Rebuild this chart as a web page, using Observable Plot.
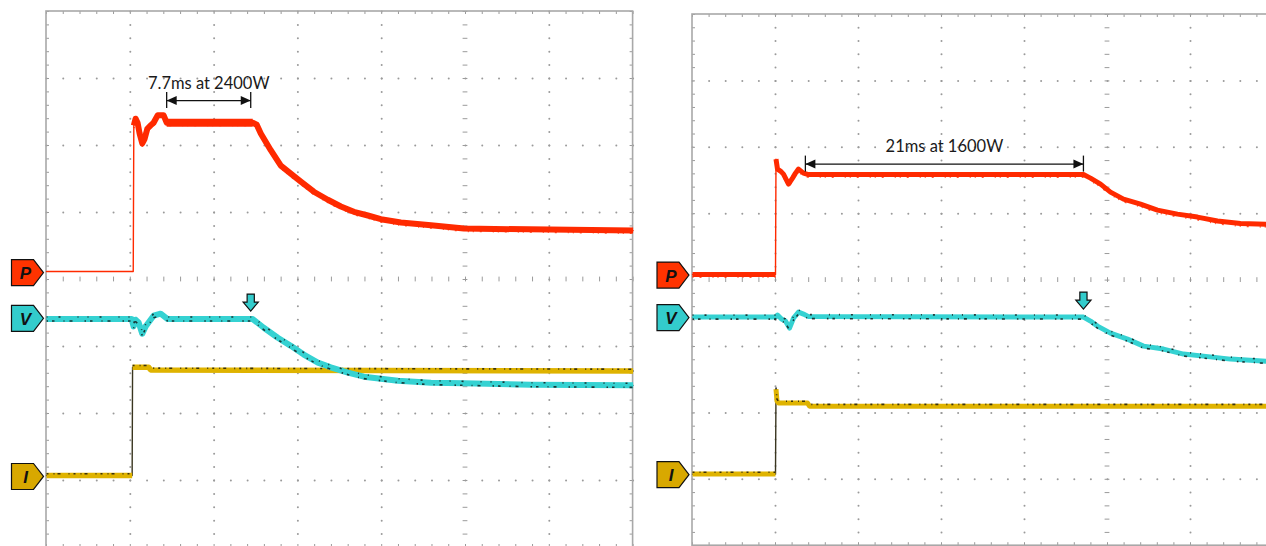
<!DOCTYPE html>
<html>
<head>
<meta charset="utf-8">
<script src="https://cdn.jsdelivr.net/npm/d3@7"></script>
<script src="https://cdn.jsdelivr.net/npm/@observablehq/plot@0.6"></script>
<style>
  html, body { margin: 0; padding: 0; background: #fff; overflow: hidden; }
  #scope { position: relative; width: 1266px; height: 546px; }
  #scope svg { position: absolute; top: 0; overflow: hidden; background: transparent; }
</style>
</head>
<body>
<div id="scope"></div>
<script>
// Scope captures, in screen divisions: x counts divisions from the left edge of
// the graticule, y counts divisions from the horizontal centre line (up is +).

// 2400 W load step
const leftPower = [[0,0.12],[1.035,0.12],[1.042,2.30],[1.063,2.40],[1.087,2.34],[1.111,2.18],[1.143,2.03],[1.171,2.10],[1.203,2.25],[1.243,2.30],[1.278,2.34],[1.326,2.45],[1.398,2.45],[1.434,2.34],[2.461,2.34],[2.509,2.31],[2.557,2.18],[2.676,1.93],[2.796,1.70],[2.915,1.58],[3.035,1.46],[3.19,1.31],[3.357,1.19],[3.513,1.09],[3.668,1.01],[3.835,0.955],[3.99,0.90],[4.229,0.85],[4.588,0.81],[4.982,0.76],[7.0,0.73]];
const leftVoltage = [[0,-0.59],[1.016,-0.59],[1.039,-0.70],[1.063,-0.60],[1.099,-0.64],[1.143,-0.81],[1.183,-0.70],[1.207,-0.66],[1.278,-0.54],[1.362,-0.51],[1.446,-0.59],[2.461,-0.59],[2.593,-0.72],[2.76,-0.87],[2.915,-0.99],[3.07,-1.12],[3.238,-1.24],[3.393,-1.31],[3.596,-1.39],[3.787,-1.45],[3.99,-1.48],[4.194,-1.51],[4.588,-1.54],[4.982,-1.55],[5.783,-1.57],[7.0,-1.58]];
const leftCurrent = [[0,-2.925],[1.022,-2.925],[1.027,-1.31],[1.219,-1.31],[1.243,-1.35],[7.0,-1.366]];
const leftChannels = [{name: "P", level: 0.104}, {name: "V", level: -0.58}, {name: "I", level: -2.94}];
const leftSpan = {from: 1.434, to: 2.437, level: 2.67, text: "7.7ms at 2400W"};

// 1600 W load step
const rightPower = [[0,0.083],[1.0,0.083],[1.006,1.822],[1.024,1.672],[1.06,1.642],[1.096,1.596],[1.157,1.446],[1.205,1.536],[1.241,1.611],[1.277,1.672],[1.337,1.611],[1.398,1.589],[4.711,1.589],[4.795,1.536],[4.916,1.446],[5.036,1.325],[5.193,1.22],[5.398,1.145],[5.602,1.054],[5.843,0.994],[6.084,0.949],[6.325,0.889],[6.602,0.851],[7.0,0.836]];
const rightVoltage = [[0,-0.557],[1.0,-0.557],[1.024,-0.527],[1.072,-0.587],[1.12,-0.617],[1.169,-0.723],[1.217,-0.572],[1.277,-0.482],[1.337,-0.512],[1.398,-0.55],[4.711,-0.557],[4.795,-0.617],[4.88,-0.693],[5.036,-0.798],[5.241,-0.889],[5.434,-0.994],[5.675,-1.039],[5.916,-1.114],[6.157,-1.145],[6.482,-1.19],[7.0,-1.23]];
const rightCurrent = [[0,-2.922],[1.0,-2.922],[1.006,-1.642],[1.018,-1.822],[1.036,-1.852],[1.386,-1.852],[1.41,-1.898],[7.0,-1.898]];
const rightChannels = [{name: "P", level: 0.075}, {name: "V", level: -0.565}, {name: "I", level: -2.93}];
const rightSpan = {from: 1.36, to: 4.71, level: 1.747, text: "21ms at 1600W"};

const COLORS = {P: "#ff2a00", V: "#35d2d2", I: "#dfb300"};
const TAGS = {P: "#ff3300", V: "#33cccc", I: "#d8a800"};
const GRID = "#9a9a9a";

// Channel tag: a pentagon pointing right, tip at the anchor.
const tagShape = {draw(ctx) {
  ctx.moveTo(0, 0); ctx.lineTo(-10, -13); ctx.lineTo(-32, -13);
  ctx.lineTo(-32, 13); ctx.lineTo(-10, 13); ctx.closePath();
}};
// Block arrow pointing down, tip at the anchor.
const downArrow = {draw(ctx) {
  ctx.moveTo(-3.6, -17); ctx.lineTo(3.6, -17); ctx.lineTo(3.6, -9); ctx.lineTo(7.6, -9);
  ctx.lineTo(0, 0); ctx.lineTo(-7.6, -9); ctx.lineTo(-3.6, -9); ctx.closePath();
}};
const headLeft = {draw(ctx) { ctx.moveTo(0, 0); ctx.lineTo(10, -4.5); ctx.lineTo(10, 4.5); ctx.closePath(); }};
const headRight = {draw(ctx) { ctx.moveTo(0, 0); ctx.lineTo(-10, -4.5); ctx.lineTo(-10, 4.5); ctx.closePath(); }};

// Split a trace at its vertical edges so that only the flat runs get the thick band.
function bands(points) {
  let seg = 0;
  return points.map(([x, y], i) => {
    if (i > 0) {
      const [x0, y0] = points[i - 1];
      if (Math.abs(y - y0) > 20 * Math.abs(x - x0)) ++seg;
    }
    return {x, y, seg};
  });
}

function levelAt(points, x) {
  const i = d3.bisector(d => d[0]).right(points, x);
  const [x0, y0] = points[i - 1], [x1, y1] = points[i];
  return y0 + (y1 - y0) * (x - x0) / (x1 - x0);
}

function trace(points, {color, edge, width, from = 0, specks = []}) {
  const pts = bands(points);
  const thick = pts.filter(d => d.seg >= from);
  return [
    Plot.line(pts, {x: "x", y: "y", stroke: edge, strokeWidth: 1.4, curve: "linear"}),
    Plot.line(thick, {x: "x", y: "y", z: "seg", stroke: color, strokeWidth: width, strokeLinecap: "butt"}),
    ...specks.map(s => Plot.line(thick, {
      x: "x", y: "y", z: "seg", stroke: s.color || "#111", strokeWidth: s.width || 1.6, strokeOpacity: 0.8,
      strokeDasharray: s.dash, dy: s.dy, strokeLinecap: "butt"
    }))
  ];
}

function graticule(cols, px, py) {
  const tx = 3 / px, ty = 3 / py;
  const minorX = d3.range(0, cols * 5 + 1).map(i => i / 5);
  const minorY = d3.range(-20, 21).map(i => i / 5);
  const dots = [];
  for (let c = 1; c < cols; ++c) if (c !== 5) for (const y of minorY) dots.push({x: c, y});
  for (let r = -3; r <= 3; ++r) if (r !== 0) for (const x of minorX) dots.push({x, y: r});
  return [
    Plot.dot(dots, {x: "x", y: "y", r: 1, fill: GRID, stroke: "none"}),
    Plot.ruleY(minorY, {y: d => d, x1: 5 - 0.8 * tx, x2: 5 + 0.8 * tx, stroke: GRID}),
    Plot.ruleX(minorX, {x: d => d, y1: -0.8 * ty, y2: 0.8 * ty, stroke: GRID}),
    Plot.ruleX(minorX, {x: d => d, y1: 4, y2: 4 - ty, stroke: GRID}),
    Plot.ruleX(minorX, {x: d => d, y1: -4, y2: -4 + ty, stroke: GRID}),
    Plot.ruleY(minorY, {y: d => d, x1: 0, x2: tx, stroke: GRID}),
    Plot.ruleY(minorY, {y: d => d, x1: cols, x2: cols - tx, stroke: GRID}),
    Plot.rect([0], {x1: () => 0, x2: () => cols, y1: () => -4, y2: () => 4,
      fill: "none", stroke: "#a8a8a8", strokeWidth: 1.6})
  ];
}

function panel(o) {
  const {power, voltage, current, channels, span} = o;
  const ty = 8 / o.py;
  const ends = [span.from, span.to].map(x => ({x, level: span.level}));
  const knee = [{x: span.to, y: levelAt(voltage, span.to)}];
  const plateau = power.filter(([x]) => x >= span.from && x <= span.to + 0.03);
  const svg = Plot.plot({
    width: o.width,
    height: 546,
    x: {domain: [0, o.cols], range: [o.x0, o.x0 + o.cols * o.px], axis: null},
    y: {domain: [-4, 4], range: [o.y0 + 8 * o.py, o.y0], axis: null},
    color: {type: "identity"},
    style: {background: "transparent", overflow: "hidden"},
    marks: [
      ...graticule(o.cols, o.px, o.py),
      // traces
      ...trace(power, {color: COLORS.P, edge: COLORS.P, width: o.pWidth, from: o.pFrom,
        specks: [{dash: "1 6 2 11 1 4", dy: 2.5, color: COLORS.P, width: 2}]}),
      o.plateauWidth ? Plot.line(plateau, {x: d => d[0], y: d => d[1], stroke: COLORS.P, strokeWidth: o.plateauWidth, strokeLinecap: "butt"}) : null,
      ...trace(current, {color: COLORS.I, edge: "#3a3620", width: o.iWidth,
        specks: [{dash: "2 5 1 3 3 8 1 4", dy: -1.8}]}),
      ...trace(voltage, {color: COLORS.V, edge: "#1a8f8f", width: o.vWidth,
        specks: [{dash: "1.5 4 2.5 9 1 5 3 12", dy: 2}, {dash: "1 11 2 17 1 9", dy: -2}]}),
      // channel ground tags
      Plot.dot(channels, {x: () => 0, y: "level", symbol: tagShape, fill: d => TAGS[d.name],
        stroke: "#111", strokeWidth: 1.2, dx: o.tagDx}),
      Plot.text(channels, {x: () => 0, y: "level", text: "name", dx: o.tagDx - 18, dy: 1,
        fontSize: 17, fontWeight: "bold", fontStyle: "italic",
        fontFamily: "'Liberation Sans', Arial, sans-serif", fill: "#111"}),
      // duration annotation
      Plot.link([span], {x1: "from", x2: "to", y1: "level", y2: "level", stroke: "#111", strokeWidth: 1.3}),
      Plot.ruleX(ends, {x: "x", y1: d => d.level - ty, y2: d => d.level + ty, stroke: "#111", strokeWidth: 1.3}),
      Plot.dot([span], {x: "from", y: "level", symbol: headLeft, fill: "#111", stroke: "none"}),
      Plot.dot([span], {x: "to", y: "level", symbol: headRight, fill: "#111", stroke: "none"}),
      Plot.text([span], {x: d => (d.from + d.to) / 2, y: "level", text: "text", dy: -17,
        fontSize: 16.5, fontFamily: "Lato, 'Open Sans', sans-serif", fill: "#1a1a1a"}),
      // knee marker on the voltage trace
      Plot.dot(knee, {x: "x", y: "y", symbol: downArrow, fill: TAGS.V, stroke: "#111", strokeWidth: 1.2, dy: -8})
    ]
  });
  svg.style.left = o.left + "px";
  return svg;
}

const host = document.getElementById("scope");
host.append(panel({
  power: leftPower, voltage: leftVoltage, current: leftCurrent, channels: leftChannels, span: leftSpan,
  cols: 7, x0: 46, px: 83.8, y0: 11, py: 67, width: 640, left: 0, tagDx: -3,
  pWidth: 6, pFrom: 1, plateauWidth: 8, vWidth: 6, iWidth: 5.5
}));
host.append(panel({
  power: rightPower, voltage: rightVoltage, current: rightCurrent, channels: rightChannels, span: rightSpan,
  cols: 10, x0: 52, px: 83, y0: 14, py: 66.4, width: 626, left: 640, tagDx: -3.5,
  pWidth: 5, pFrom: 0, plateauWidth: 0, vWidth: 5, iWidth: 5
}));
</script>
</body>
</html>
